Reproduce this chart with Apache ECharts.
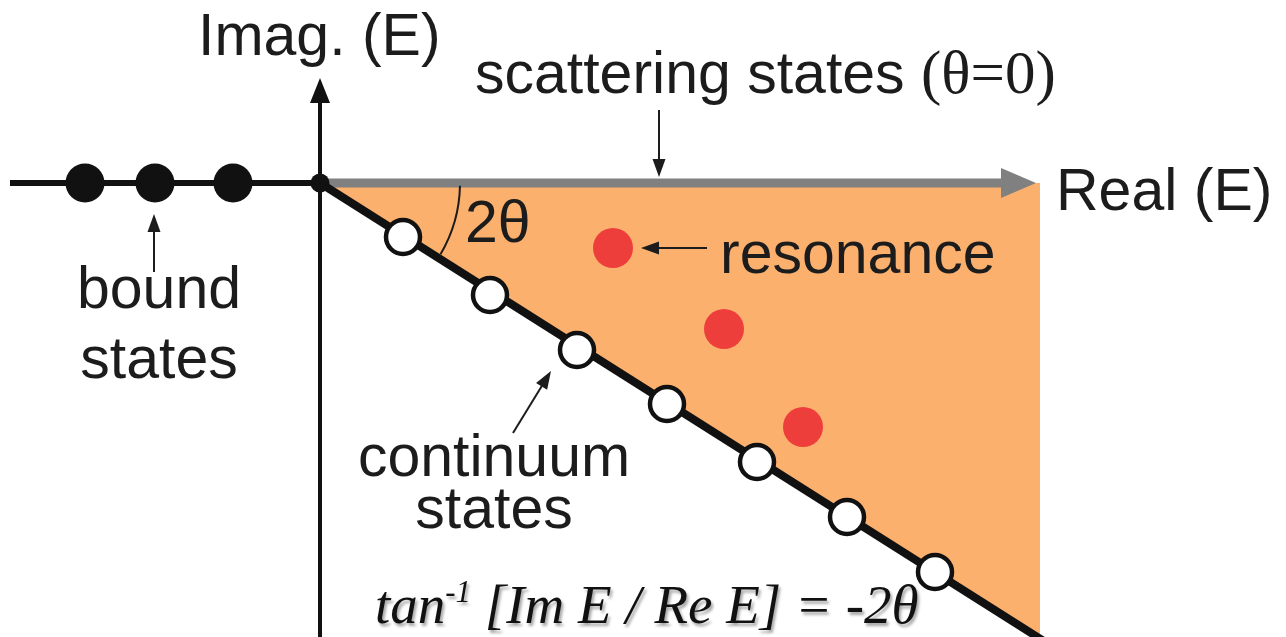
<!DOCTYPE html>
<html><head><meta charset="utf-8">
<script src="https://cdn.jsdelivr.net/npm/echarts@6/dist/echarts.min.js"></script>
<style>html,body{margin:0;padding:0;background:#fff}#c{width:1286px;height:637px}</style>
</head><body><div id="c"></div>
<script>
// ---- data (diagram units: 1 unit = 10 px, origin at axis crossing) ----
const boundX = [-23.5, -16.5, -8.7];
const boundY = [0, 0, 0];
const contX = [8.3, 17, 25.7, 34.7, 43.7, 52.7, 61.5];
const contY = [-5.4, -11.2, -16.7, -22.1, -27.9, -33.4, -38.9];
const resX = [29.3, 40.4, 48.3];
const resY = [-6.5, -14.6, -24.4];
const originX = [0];
const originY = [0];
const wedgeX = [0, 72, 72];
const wedgeY = [0, 0, -45.6];
const rotAngleDeg = 32.3;

// segments [x1,y1,x2,y2]
const plainSegs = [[-31, 0, 0, 0]];
const rotSegs = [[0, 0, 73, -46.2]];
const imagAxis = [[0, -45.5, 0, 10.5]];
const realAxis = [[0, 0, 71.6, 0]];
const pointerSegs = [
  [-16.6, -8.9, -16.6, -3.1],
  [33.9, 7.3, 33.9, 0.6],
  [38.7, -6.5, 32.1, -6.5],
  [19.3, -25.0, 23.1, -18.8]
];

const labelTexts = ['Imag. (E)', '{s|scattering states }{t|(θ=0)}', 'Real (E)', 'resonance', 'bound', 'states', 'continuum', 'states', '2θ'];
const labelX = [-12.2, 15.5, 73.6, 40.0, -16.1, -16.1, 17.4, 17.4, 14.5];
const labelY = [12.6, 8.8, -2.9, -9.2, -12.7, -19.7, -29.5, -34.7, -6.1];
const labelAlign = ['left', 'left', 'left', 'left', 'center', 'center', 'center', 'center', 'left'];
const formulaX = [5.5];
const formulaY = [-44.2];

// ---- layout/style ----
const SANS = '"Liberation Sans", Arial, Helvetica, sans-serif';
const SERIF = '"Liberation Serif", "Times New Roman", serif';
const FS = 59;
const TXT = '#1c1c1c';

function segSeries(data, st) {
  return {
    type: 'custom', coordinateSystem: 'cartesian2d', silent: true, z: st.z || 3,
    data: data, encode: { x: [0, 2], y: [1, 3] },
    renderItem: function (p, api) {
      const a = api.coord([api.value(0), api.value(1)]);
      const b = api.coord([api.value(2), api.value(3)]);
      const dx = b[0] - a[0], dy = b[1] - a[1];
      const L = Math.hypot(dx, dy), ux = dx / L, uy = dy / L;
      const children = [];
      if (st.head) {
        const hl = st.head[0], hw = st.head[1];
        const e = [b[0] - ux * hl * 0.7, b[1] - uy * hl * 0.7];
        children.push({ type: 'line', shape: { x1: a[0], y1: a[1], x2: e[0], y2: e[1] }, style: { stroke: st.color, lineWidth: st.width } });
        const bx = b[0] - ux * hl, by = b[1] - uy * hl;
        children.push({ type: 'polygon', shape: { points: [[b[0], b[1]], [bx - uy * hw / 2, by + ux * hw / 2], [bx + uy * hw / 2, by - ux * hw / 2]] }, style: { fill: st.color } });
      } else {
        children.push({ type: 'line', shape: { x1: a[0], y1: a[1], x2: b[0], y2: b[1] }, style: { stroke: st.color, lineWidth: st.width, lineCap: 'butt' } });
      }
      return { type: 'group', children: children };
    }
  };
}

const chart = echarts.init(document.getElementById('c'), null, { renderer: 'canvas' });
chart.setOption({
  animation: false,
  backgroundColor: '#ffffff',
  grid: { left: 0, right: 0, top: 0, bottom: 0, containLabel: false },
  xAxis: { type: 'value', min: -32, max: 96.6, show: false },
  yAxis: { type: 'value', min: -45.4, max: 18.3, show: false },
  series: [
    {
      type: 'custom', coordinateSystem: 'cartesian2d', silent: true, z: 1,
      data: [[wedgeX[0], wedgeY[0]]],
      renderItem: function (p, api) {
        const pts = wedgeX.map((x, i) => api.coord([x, wedgeY[i]]));
        return { type: 'polygon', shape: { points: pts }, style: { fill: '#FBB06E' } };
      }
    },
    segSeries(plainSegs, { color: '#111', width: 6 }),
    segSeries(realAxis, { color: '#808080', width: 9, head: [35, 30] }),
    segSeries(rotSegs, { color: '#111', width: 8, z: 4 }),
    segSeries(imagAxis, { color: '#111', width: 4, head: [25, 20] }),
    segSeries(pointerSegs, { color: '#1c1c1c', width: 2, head: [18, 13] }),
    {
      type: 'custom', coordinateSystem: 'cartesian2d', silent: true, z: 3,
      data: [[originX[0], originY[0]]],
      renderItem: function (p, api) {
        const c = api.coord([api.value(0), api.value(1)]);
        const r = api.size([14, 0])[0];
        return { type: 'arc', shape: { cx: c[0], cy: c[1], r: r, startAngle: 0.02, endAngle: rotAngleDeg * Math.PI / 180 - 0.03, clockwise: true }, style: { stroke: '#1c1c1c', lineWidth: 2, fill: null } };
      }
    },
    {
      type: 'scatter', z: 5, silent: true, symbol: 'circle', symbolSize: 39,
      data: boundX.map((x, i) => [x, boundY[i]]),
      itemStyle: { color: '#111', opacity: 1 }
    },
    {
      type: 'scatter', z: 6, silent: true, symbol: 'circle', symbolSize: 19,
      data: originX.map((x, i) => [x, originY[i]]),
      itemStyle: { color: '#111', opacity: 1 }
    },
    {
      type: 'scatter', z: 6, silent: true, symbol: 'circle', symbolSize: 34,
      data: contX.map((x, i) => [x, contY[i]]),
      itemStyle: { color: '#ffffff', borderColor: '#111', borderWidth: 4.5, opacity: 1 }
    },
    {
      type: 'scatter', z: 6, silent: true, symbol: 'circle', symbolSize: 40,
      data: resX.map((x, i) => [x, resY[i]]),
      itemStyle: { color: '#EE3E3C', opacity: 1 }
    },
    {
      type: 'custom', coordinateSystem: 'cartesian2d', silent: true, z: 8,
      data: labelX.map((x, i) => [x, labelY[i]]),
      renderItem: function (p, api) {
        const c = api.coord([api.value(0), api.value(1)]);
        return {
          type: 'text', x: c[0], y: c[1] - 0.31 * FS,
          style: {
            text: labelTexts[p.dataIndex], fill: TXT, align: labelAlign[p.dataIndex], verticalAlign: 'middle',
            font: FS + 'px ' + SANS,
            rich: {
              s: { fontFamily: SANS, fontSize: FS, fill: TXT },
              t: { fontFamily: SERIF, fontSize: FS + 2, fill: TXT }
            }
          }
        };
      }
    },
    {
      type: 'custom', coordinateSystem: 'cartesian2d', silent: true, z: 8,
      data: formulaX.map((x, i) => [x, formulaY[i]]),
      renderItem: function (p, api) {
        const c = api.coord([api.value(0), api.value(1)]);
        const fs = 55;
        const sh = { textShadowColor: 'rgba(0,0,0,0.35)', textShadowBlur: 3, textShadowOffsetX: 2, textShadowOffsetY: 3 };
        return {
          type: 'text', x: c[0], y: c[1] - 0.3 * fs,
          style: {
            text: '{m|tan}{u|-1}{m| [Im E / Re E] = -2θ}', align: 'left', verticalAlign: 'middle',
            rich: {
              m: Object.assign({ fontFamily: SERIF, fontStyle: 'italic', fontSize: fs, fill: '#111', height: 62 }, sh),
              u: Object.assign({ fontFamily: SERIF, fontStyle: 'italic', fontSize: 31, fill: '#111', verticalAlign: 'top', height: 62, padding: [0, 0, 30, 0] }, sh)
            }
          }
        };
      }
    }
  ]
});
</script>
</body></html>
